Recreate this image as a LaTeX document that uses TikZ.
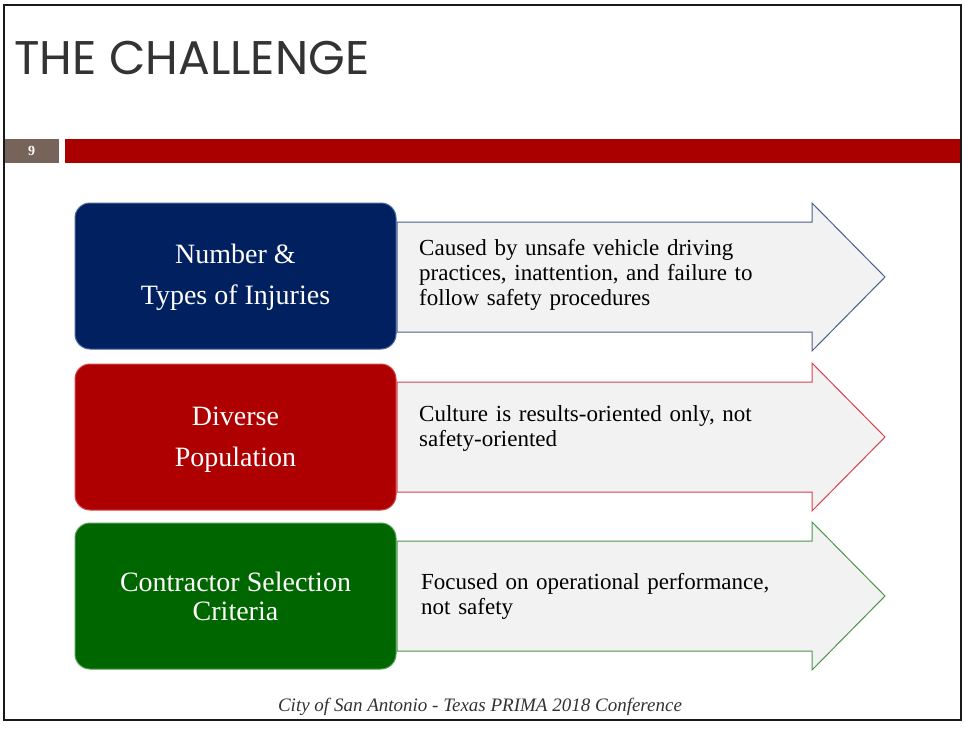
\documentclass[tikz,border=0pt]{standalone}
\usepackage{fontspec}
\setmainfont{Liberation Serif}
\newfontfamily\titlefont{Poppins}
\definecolor{titlegray}{RGB}{51,51,51}
\definecolor{numbrown}{RGB}{118,99,90}
\definecolor{barred}{RGB}{170,0,0}
\definecolor{navy}{RGB}{0,32,96}
\definecolor{navyedge}{RGB}{70,100,160}
\definecolor{boxred}{RGB}{174,0,0}
\definecolor{rededge}{RGB}{215,70,70}
\definecolor{boxgreen}{RGB}{0,102,0}
\definecolor{greenedge}{RGB}{80,160,80}
\definecolor{arrowfill}{RGB}{242,242,242}
\definecolor{arrowblue}{RGB}{75,95,140}
\definecolor{arrowred}{RGB}{215,65,80}
\definecolor{arrowgreen}{RGB}{75,150,75}
\begin{document}
\begin{tikzpicture}[x=1pt,y=-1pt,
  catbox/.style={minimum width=321pt, minimum height=146pt, rounded corners=15pt,
    line width=1pt, inner sep=0pt, text=white, align=center,
    font=\fontsize{28}{41}\selectfont},
  arrowshape/.style={fill=arrowfill, line width=1pt, line join=miter},
  desc/.style={anchor=base west, inner sep=0pt, text width=420pt, align=left,
    font=\fontsize{23}{25}\selectfont, text=black}]
\useasboundingbox (0,0) rectangle (965,729);
\fill[white] (0,0) rectangle (965,729);
% title
\node[anchor=base west, inner sep=0pt, text=titlegray,
  font=\titlefont\fontsize{47.2}{47.2}\selectfont] (title) at (14,74) {THE CHALLENGE};
% number and bar
\node[fill=numbrown, minimum width=55pt, minimum height=24pt, inner sep=0pt,
  text=white, font=\bfseries\fontsize{14}{14}\selectfont] (num) at (31.5,151) {9};
\node[fill=barred, minimum width=896pt, minimum height=24pt, inner sep=0pt] (bar) at (513,151) {};
% arrows
\newcommand\chevarrow[2]{%
  \draw[arrowshape, draw=#1] (397,{#2-55}) -- (812,{#2-55}) -- (812,{#2-74}) -- (885,#2)
    -- (812,{#2+74}) -- (812,{#2+55}) -- (397,{#2+55}) -- cycle;}
\chevarrow{arrowblue}{277}
\chevarrow{arrowred}{437}
\chevarrow{arrowgreen}{596}
% boxes
\node[catbox, fill=navy, draw=navyedge] (b1) at (235.5,276) {\rule{0pt}{23pt}Number \&\\Types of Injuries};
\node[catbox, fill=boxred, draw=rededge] (b2) at (235.5,437) {\rule{0pt}{23pt}Diverse\\Population};
\node[catbox, fill=boxgreen, draw=greenedge, font=\fontsize{28}{29}\selectfont] (b3) at (235.5,596) {Contractor Selection\\Criteria};
% descriptions
\node[desc] (d1) at (419,255) {Caused by unsafe vehicle driving\\practices, inattention, and failure to\\follow safety procedures};
\node[desc] (d2) at (419,421) {Culture is results-oriented only, not\\safety-oriented};
\node[desc] (d3) at (421,589) {Focused on operational performance,\\not safety};
% footer
\node[anchor=base, inner sep=0pt, text=titlegray, font=\itshape\fontsize{19}{19}\selectfont] (foot) at (480,711) {City of San Antonio - Texas PRIMA 2018 Conference};
% frame
\draw[line width=2pt, black!90] (4,5) rectangle (961,720);
\end{tikzpicture}
\end{document}
